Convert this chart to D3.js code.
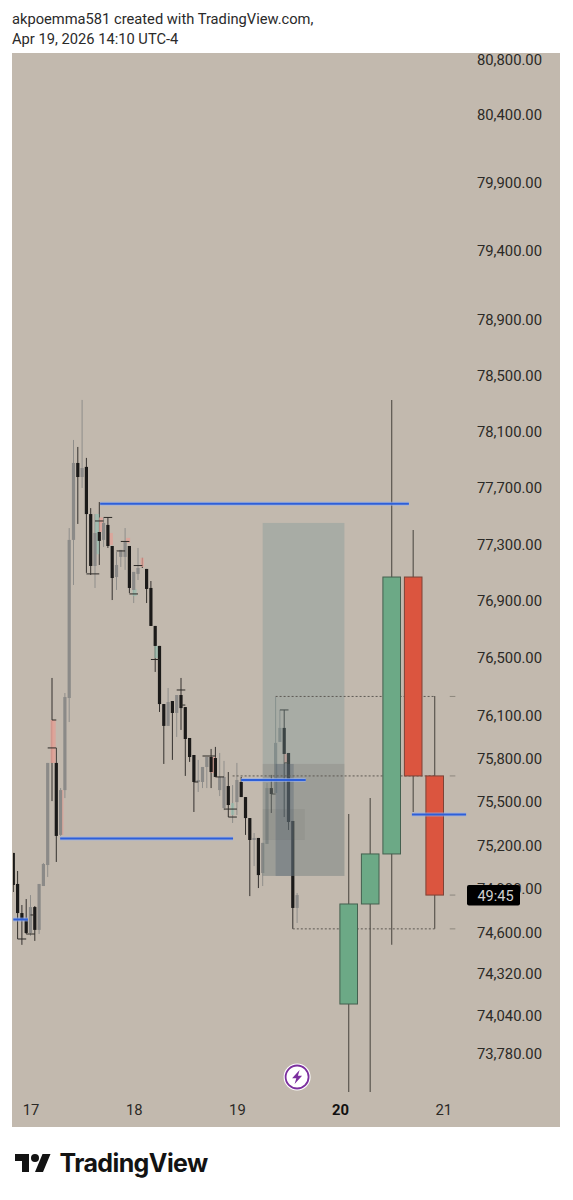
<!DOCTYPE html>
<html>
<head>
<meta charset="utf-8">
<script src="https://cdn.jsdelivr.net/npm/d3@7/dist/d3.min.js"></script>
<style>
  html, body { margin: 0; background: #fff; }
  text { font-family: Roboto, sans-serif; }
</style>
</head>
<body>
<div id="chart"></div>
<script>
// Price axis and day labels
var priceTicks = [80800, 80400, 79900, 79400, 78900, 78500, 78100, 77700, 77300, 76900, 76500,
  76100, 75800, 75500, 75200, 74900, 74600, 74320, 74040, 73780];
var dayHours = [0, 24, 48, 72, 96];
var dayLabels = ['17', '18', '19', '20', '21'];

// Hourly candles, hours counted from the 17th, one entry per hour from hourStart
var hourStart = -4;
var hourKind = ['d', 'd', 'd', 'd', 'g', 'd', 'g', 'g', 'g', 'p', 'd', 'g', 'g', 'g', 'g', 'd', 'g',
  'd', 'd', 'g', 'd', 'g', 'd', 'd', 'g', 'g', 'g', 'd', 'g', 'g', 'p', 'd', 'd', 'd', 'd', 'd', 'g',
  'd', 'g', 'd', 'd', 'd', 'd', 'g', 'g', 'g', 'd', 'd', 'g', 'g', 'd', 't', 'g', 'd', 'd', 'd', 'g',
  'd', 'g', 'g', 'd', 'g', 'g', 'd', 'd', 'd', 'g'];
var hourHigh = [75149, 75025, 74792, 74833, 74860, 74785, 74936, 75080, 75770, 76361, 75874, 75596, 76256,
  77415, 78041, 77991, 78327, 77913, 77556, 77514, 77599, 77486, 77493, 77288, 77246, 77260, 77415, 77288,
  77105, 77274, 77204, 77126, 77041, 76725, 76585, 76179, 76291, 76200, 76242, 76361, 76158, 75943, 75825,
  75791, 75742, 75811, 75867, 75881, 75839, 75784, 75707, 75617, 75770, 75673, 75534, 75389, 75286, 75252,
  75218, 75631, 75687, 76228, 76138, 76138, 75839, 75369, 74874];
var hourTop = [75149, 74936, 74737, 74690, 74778, 74778, 74936, 75073, 75770, 76068, 75770, 75582, 76228,
  77331, 77877, 77877, 77841, 77849, 77514, 77380, 77387, 77451, 77437, 77288, 77154, 77260, 77317, 77288,
  77105, 77133, 77204, 77126, 76992, 76725, 76585, 76179, 76193, 76200, 76242, 76242, 76158, 75943, 75825,
  75652, 75742, 75811, 75811, 75804, 75673, 75673, 75610, 75492, 75652, 75638, 75534, 75389, 75252, 75252,
  75218, 75596, 75596, 75909, 76013, 76013, 75839, 75369, 74860];
var hourBottom = [74929, 74737, 74690, 74601, 74601, 74622, 74622, 74922, 75066, 75770, 75266, 75273, 75582,
  76221, 77331, 77777, 77777, 77514, 77147, 77147, 77324, 77331, 77288, 77062, 77069, 77211, 77211, 76992,
  76978, 77091, 77140, 76985, 76725, 76585, 76179, 76027, 76027, 76117, 76117, 76151, 75936, 75811, 75638,
  75638, 75638, 75742, 75707, 75673, 75582, 75458, 75479, 75410, 75499, 75534, 75389, 75238, 75238, 74997,
  75011, 75211, 75555, 75562, 75916, 75832, 75362, 74772, 74772];
var hourLow = [74881, 74560, 74520, 74594, 74581, 74547, 74594, 74922, 74984, 75506, 75087, 75266, 75527,
  76054, 77013, 77444, 77699, 77098, 77084, 76992, 77154, 77281, 77274, 76907, 76978, 77140, 77119, 76956,
  76886, 77048, 77133, 76886, 76725, 76403, 76124, 75763, 76027, 75791, 75950, 75999, 75680, 75777, 75431,
  75569, 75596, 75596, 75596, 75673, 75541, 75444, 75396, 75355, 75410, 75534, 75273, 74853, 75059, 74908,
  74922, 75211, 75424, 75562, 75916, 75396, 75307, 74629, 74669];

// Faint pink and teal bodies that sit behind the hourly candles
var ghostHour = [5.4, 7.2, 15.5, 16.4, 18.7, 22.7, 24.2, 29.3, 42.5, 59.5];
var ghostTop = [76068, 75582, 77514, 77490, 77380, 77345, 76985, 76585, 75811, 75832];
var ghostBottom = [75770, 75273, 77230, 77387, 77295, 77310, 76935, 76500, 75700, 75770];
var ghostKind = ['p', 'p', 't', 'p', 'p', 'p', 't', 't', 'p', 'p'];

// Short black steps between the hourly candles
var stepFrom = [-3, -1, 0, 4, 5, 13, 15, 17, 20, 21, 23, 24, 28, 34, 35, 38, 40, 43, 45, 46, 56, 58, 59];
var stepTo = [-1, 1, 1, 6, 6, 16, 17, 19, 22, 23, 25, 26, 30, 36, 36, 39, 43, 45, 48, 48, 57, 60, 60];
var stepPrice = [74560, 74594, 74724, 75874, 76068, 77091, 77465, 77490, 77253, 77320, 76950, 77150, 76490,
  76277, 76172, 75638, 75818, 75673, 75451, 75396, 75555, 76138, 75770];

// Five hour candles on the right
var bigHour = [74, 79, 84, 89, 94];
var bigOpen = [74118, 74799, 75142, 77069, 75680];
var bigClose = [74799, 75142, 77069, 75680, 74860];
var bigHigh = [75417, 75527, 78327, 77401, 76235];
var bigLow = [73524, 73524, 74520, 75431, 74629];

// Blue levels
var levelFrom = [16.2, 6.9, -4, 49, 88.7];
var levelTo = [88, 47.1, -0.6, 64, 101.3];
var levelPrice = [77588, 75248, 74693, 75652, 75413];

// Shaded boxes
var boxFrom = [54, 54, 57, 54];
var boxTo = [73, 73, 61.2, 63.8];
var boxTop = [77451, 75763, 75763, 75451];
var boxBottom = [74991, 74991, 74991, 75238];
var boxFill = ['rgba(120,150,150,.35)', 'rgba(110,100,95,.2)', 'rgba(70,90,110,.3)', 'rgba(90,90,85,.1)'];

// Dotted levels
var dotFrom = [57, 47, 61];
var dotTo = [94, 94, 94];
var dotPrice = [76232, 75680, 74629];
var axisDashPrice = [76232, 75680, 74860, 74629];

var width = 573;
var height = 1200;
var plot = {left: 12, right: 560, top: 53, bottom: 1127};
var colors = {bg: '#c2b9ae', dark: '#1b1a19', gray: '#8b8a88', pink: 'rgba(226,160,150,.75)', teal: 'rgba(150,190,175,.7)',
  up: '#6ca986', down: '#db553f', blue: '#2d5fd8', text: '#2b2926'};

var x = d3.scaleLinear().domain([0, 96]).range([30.5, 443.3]);
var y = d3.scaleLog().domain([73780, 80800]).range([1054, 60]);

var svg = d3.select('#chart').append('svg')
  .attr('width', width)
  .attr('height', height)
  .style('display', 'block');

svg.append('defs').append('clipPath')
  .attr('id', 'plot-clip')
  .append('rect')
    .attr('x', plot.left + 1)
    .attr('y', plot.top)
    .attr('width', plot.right - plot.left - 1)
    .attr('height', plot.bottom - plot.top);

/* === Header and footer === */

svg.append('text').attr('x', 12).attr('y', 23.5).attr('font-size', 14.7).attr('fill', '#2a2a2a')
  .text('akpoemma581 created with TradingView.com,');
svg.append('text').attr('x', 12).attr('y', 44).attr('font-size', 14.7).attr('fill', '#2a2a2a')
  .text('Apr 19, 2026 14:10 UTC-4');

var logo = svg.append('g').attr('transform', 'translate(15, 1150)').attr('fill', '#131313');
logo.append('path').attr('d', 'M14 22H7V11H0V4h14v18zM28 22h-8l7.5-18h8L28 22z');
logo.append('circle').attr('cx', 20).attr('cy', 8).attr('r', 4);
svg.append('text').attr('x', 59.5).attr('y', 1172).attr('font-size', 25).attr('font-weight', 700)
  .style('font-family', 'Inter, sans-serif').attr('letter-spacing', -0.6).attr('fill', '#131313')
  .text('TradingView');

/* === Plot background === */

svg.append('rect')
  .attr('x', plot.left)
  .attr('y', plot.top)
  .attr('width', plot.right - plot.left)
  .attr('height', plot.bottom - plot.top)
  .attr('fill', colors.bg);

var g = svg.append('g').attr('clip-path', 'url(#plot-clip)');

// The reference is a soft screenshot, so the tiny candles get a slight blur
var hourlyGroup = g.append('g').style('filter', 'blur(0.35px)');

/* === Hourly candles === */

var hourly = hourKind.map(function(kind, i) {
  return {hour: hourStart + i, kind: kind, high: hourHigh[i], top: hourTop[i], bottom: hourBottom[i], low: hourLow[i]};
});
var ghosts = ghostHour.map(function(hour, i) {
  return {hour: hour, top: ghostTop[i], bottom: ghostBottom[i], kind: ghostKind[i]};
});

function bodyFill(kind) {
  return {d: colors.dark, g: colors.gray, p: colors.pink, t: colors.teal}[kind];
}

hourlyGroup.selectAll('line.wick').data(hourly).enter().append('line')
  .attr('class', 'wick')
  .attr('x1', function(d) { return x(d.hour); })
  .attr('x2', function(d) { return x(d.hour); })
  .attr('y1', function(d) { return y(d.high); })
  .attr('y2', function(d) { return y(d.low); })
  .attr('stroke', function(d) { return d.kind === 'g' || d.kind === 't' ? '#8f8e8b' : '#34312e'; })
  .attr('stroke-width', 1);

hourlyGroup.selectAll('rect.ghost').data(ghosts).enter().append('rect')
  .attr('class', 'ghost')
  .attr('x', function(d) { return x(d.hour) - 2; })
  .attr('width', 4)
  .attr('y', function(d) { return y(d.top); })
  .attr('height', function(d) { return y(d.bottom) - y(d.top); })
  .attr('fill', function(d) { return bodyFill(d.kind); });

hourlyGroup.selectAll('rect.body').data(hourly).enter().append('rect')
  .attr('class', 'body')
  .attr('x', function(d) { return x(d.hour) - 1.6; })
  .attr('width', 3.2)
  .attr('y', function(d) { return y(d.top); })
  .attr('height', function(d) { return Math.max(1, y(d.bottom) - y(d.top)); })
  .attr('fill', function(d) { return bodyFill(d.kind); });

hourlyGroup.selectAll('line.step').data(stepPrice).enter().append('line')
  .attr('class', 'step')
  .attr('x1', function(d, i) { return x(stepFrom[i]); })
  .attr('x2', function(d, i) { return x(stepTo[i]); })
  .attr('y1', function(d) { return y(d); })
  .attr('y2', function(d) { return y(d); })
  .attr('stroke', '#2c2a27')
  .attr('stroke-width', 1);

/* === Boxes, dotted levels, big candles, blue levels === */

g.selectAll('rect.box').data(boxFill).enter().append('rect')
  .attr('class', 'box')
  .attr('x', function(d, i) { return x(boxFrom[i]); })
  .attr('width', function(d, i) { return x(boxTo[i]) - x(boxFrom[i]); })
  .attr('y', function(d, i) { return y(boxTop[i]); })
  .attr('height', function(d, i) { return y(boxBottom[i]) - y(boxTop[i]); })
  .attr('fill', function(d) { return d; });

g.selectAll('line.dot').data(dotPrice).enter().append('line')
  .attr('class', 'dot')
  .attr('x1', function(d, i) { return x(dotFrom[i]); })
  .attr('x2', function(d, i) { return x(dotTo[i]); })
  .attr('y1', function(d) { return y(d); })
  .attr('y2', function(d) { return y(d); })
  .attr('stroke', '#5e5a54')
  .attr('stroke-width', 1)
  .attr('stroke-dasharray', '2,2');

g.selectAll('line.axis-dash').data(axisDashPrice).enter().append('line')
  .attr('class', 'axis-dash')
  .attr('x1', x(97.5))
  .attr('x2', x(98.8))
  .attr('y1', function(d) { return y(d); })
  .attr('y2', function(d) { return y(d); })
  .attr('stroke', '#8d877e')
  .attr('stroke-width', 1);

var big = bigHour.map(function(hour, i) {
  return {hour: hour, open: bigOpen[i], close: bigClose[i], high: bigHigh[i], low: bigLow[i]};
});

g.selectAll('line.big-wick').data(big).enter().append('line')
  .attr('class', 'big-wick')
  .attr('x1', function(d) { return x(d.hour); })
  .attr('x2', function(d) { return x(d.hour); })
  .attr('y1', function(d) { return y(d.high); })
  .attr('y2', function(d) { return y(d.low); })
  .attr('stroke', '#5a564f')
  .attr('stroke-width', 1.2);

g.selectAll('rect.big-body').data(big).enter().append('rect')
  .attr('class', 'big-body')
  .attr('x', function(d) { return x(d.hour) - 8.8; })
  .attr('width', 17.6)
  .attr('y', function(d) { return y(Math.max(d.open, d.close)); })
  .attr('height', function(d) { return Math.abs(y(d.open) - y(d.close)); })
  .attr('fill', function(d) { return d.close >= d.open ? colors.up : colors.down; })
  .attr('stroke', function(d) { return d.close >= d.open ? '#44604f' : '#7c4337'; })
  .attr('stroke-width', 1);

[{w: 4, c: 'rgba(150,175,235,.65)'}, {w: 2, c: colors.blue}].forEach(function(pen) {
  g.selectAll('line.level-' + pen.w).data(levelPrice).enter().append('line')
    .attr('class', 'level-' + pen.w)
    .attr('x1', function(d, i) { return x(levelFrom[i]); })
    .attr('x2', function(d, i) { return x(levelTo[i]); })
    .attr('y1', function(d) { return y(d); })
    .attr('y2', function(d) { return y(d); })
    .attr('stroke', pen.c)
    .attr('stroke-width', pen.w);
});

/* === Axes === */

var yAxis = d3.axisRight(y)
  .tickValues(priceTicks)
  .tickSize(0)
  .tickPadding(0)
  .tickFormat(d3.format(',.2f'));

var yAxisGroup = svg.append('g')
  .attr('class', 'y-axis')
  .attr('transform', 'translate(542, 0)')
  .call(yAxis);
yAxisGroup.select('.domain').remove();
yAxisGroup.selectAll('text')
  .attr('text-anchor', 'end')
  .attr('font-size', 14.8)
  .style('font-family', 'Roboto, sans-serif')
  .attr('fill', colors.text);

var xAxis = d3.axisBottom(x)
  .tickValues(dayHours)
  .tickSize(0)
  .tickPadding(0)
  .tickFormat(function(d, i) { return dayLabels[i]; });

var xAxisGroup = svg.append('g')
  .attr('class', 'x-axis')
  .attr('transform', 'translate(0, 1104)')
  .call(xAxis);
xAxisGroup.select('.domain').remove();
xAxisGroup.selectAll('text')
  .attr('font-size', 14.8)
  .style('font-family', 'Roboto, sans-serif')
  .attr('font-weight', function(d) { return d === 72 ? 700 : 400; })
  .attr('fill', function(d) { return d === 72 ? '#111' : colors.text; });

/* === Countdown badge and alert icon === */

svg.append('rect').attr('x', 467).attr('y', 885).attr('width', 53).attr('height', 20.5).attr('rx', 2).attr('fill', '#000');
svg.append('text').attr('x', 495.5).attr('y', 901).attr('text-anchor', 'middle').attr('font-size', 14.5)
  .attr('fill', '#d0d0d0').text('49:45');

var icon = svg.append('g').attr('transform', 'translate(' + x(62) + ', 1077)');
icon.append('circle').attr('r', 13.5).attr('fill', '#fff');
icon.append('circle').attr('r', 11.5).attr('fill', '#fff').attr('stroke', '#7b2f9e').attr('stroke-width', 1.8);
icon.append('path').attr('d', 'M2.5 -7L-5 1.2H-0.8L-2.5 7L5 -1.2H0.8Z').attr('fill', '#7b2f9e');
</script>
</body>
</html>
